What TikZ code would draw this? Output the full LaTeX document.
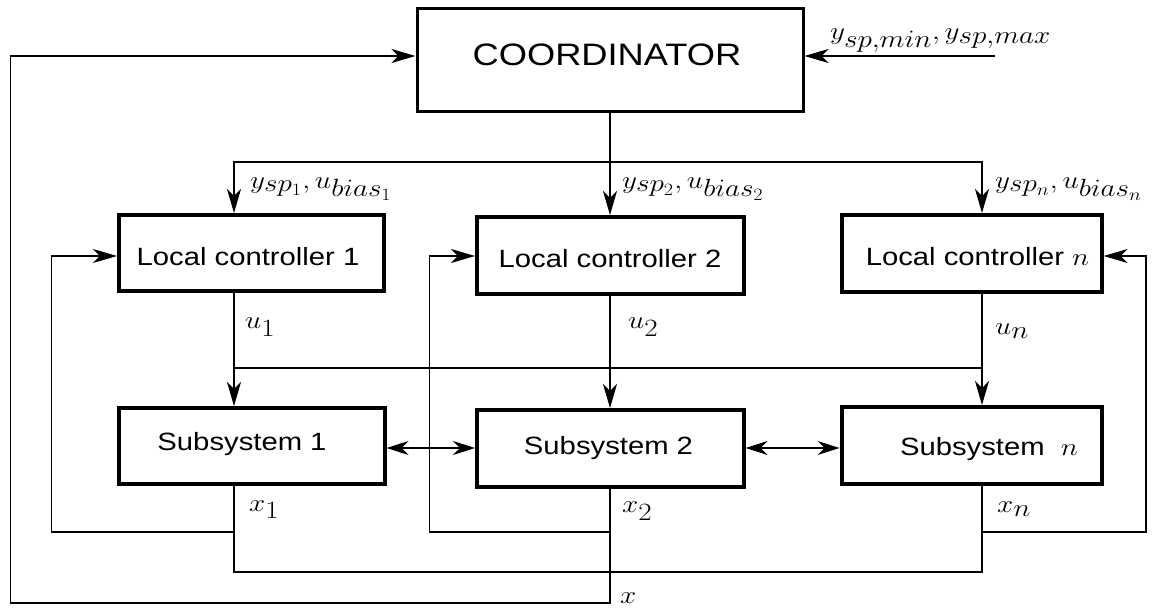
\documentclass[tikz,border=0pt]{standalone}
\usepackage{fontspec}
\setmainfont{Liberation Sans}
\usepackage{graphicx}
\usetikzlibrary{arrows.meta,calc}
\newcommand\sx[1]{\scalebox{1.17}[1]{#1}}
\begin{document}
\begin{tikzpicture}[x=1pt,y=-1pt,
  box/.style={draw,line width=4pt,inner sep=0},
  ln/.style={line width=1.2pt},
  arr/.style={ln,-{Stealth[length=24pt,width=14pt,inset=7pt]}},
  darr/.style={ln,{Stealth[length=22pt,width=14pt,inset=7pt]}-{Stealth[length=22pt,width=14pt,inset=7pt]}},
  txt/.style={font=\fontsize{25}{30}\selectfont,inner sep=0,anchor=base},
  mlab/.style={font=\fontsize{35}{40}\selectfont,inner sep=0,anchor=west}]
\useasboundingbox (0,0) rectangle (1154,610);
% boxes
\node[box,line width=3pt,minimum width=386pt,minimum height=103pt] (coord) at (610,60) {};
\node[box,minimum width=265.5pt,minimum height=76pt] (lc1) at (251.7,253) {};
\node[box,minimum width=266.6pt,minimum height=77pt] (lc2) at (610.3,255.5) {};
\node[box,minimum width=259.6pt,minimum height=77pt] (lcn) at (971.8,253.5) {};
\node[box,minimum width=266pt,minimum height=76pt] (s1) at (251.6,446) {};
\node[box,minimum width=266.6pt,minimum height=77pt] (s2) at (610.3,448.5) {};
\node[box,minimum width=260.5pt,minimum height=77pt] (sn) at (971.8,445.5) {};
% box texts
\node[txt,font=\fontsize{31}{36}\selectfont] (coordt) at (607,66) {\sx{COORDINATOR}};
\node[txt] (lc1t) at (248,265) {\sx{Local controller 1}};
\node[txt] (lc2t) at (610,267) {\sx{Local controller 2}};
\node[txt] (lcnt) at (977.5,265) {\sx{Local controller {\fontsize{34}{38}\selectfont$n$}}};
\node[txt] (s1t) at (242,450) {\sx{Subsystem 1}};
\node[txt] (s2t) at (608.5,454) {\sx{Subsystem 2}};
\node[txt] (snt) at (989,455) {\sx{Subsystem\ \ {\fontsize{34}{38}\selectfont$n$}}};
% columns and rows
\coordinate (c1) at (234,0);
\coordinate (c2) at (610,0);
\coordinate (cn) at (982,0);
\coordinate (fx1) at (51.7,0);
\coordinate (fx2) at (429.4,0);
\coordinate (fxn) at (1146,0);
\coordinate (ox) at (10.3,0);
\coordinate (rcin) at (0,56);
\coordinate (rbr) at (0,162);
\coordinate (rfin) at (0,256);
\coordinate (rcross) at (0,368);
\coordinate (rbi) at (0,448);
\coordinate (rfb) at (0,532);
\coordinate (rxb) at (0,572);
\coordinate (rout) at (0,603);
\coordinate (ext) at (995,56);
% outer loop
\draw[arr] (c2 |- s2.south) |- (ox |- rout) |- (coord.west |- rcin);
% external input
\draw[arr] (ext) -- (coord.east |- ext);
% coordinator to local controllers
\draw[arr] (c2 |- coord.south) -- (c2 |- lc2.north);
\draw[arr] (c2 |- rbr) -| (c1 |- lc1.north);
\draw[arr] (c2 |- rbr) -| (cn |- lcn.north);
% control inputs
\draw[arr] (c1 |- lc1.south) -- (c1 |- s1.north);
\draw[arr] (c2 |- lc2.south) -- (c2 |- s2.north);
\draw[arr] (cn |- lcn.south) -- (cn |- sn.north);
\draw[ln] (c1 |- rcross) -- (cn |- rcross);
% interactions
\draw[darr] (s1.east |- rbi) -- (s2.west |- rbi);
\draw[darr] (s2.east |- rbi) -- (sn.west |- rbi);
% state lines
\draw[ln] (c1 |- s1.south) |- (cn |- rxb) -- (cn |- sn.south);
% feedback
\draw[arr] (c1 |- rfb) -| (fx1 |- rfin) -- (lc1.west |- rfin);
\draw[arr] (c2 |- rfb) -| (fx2 |- rfin) -- (lc2.west |- rfin);
\draw[arr] (cn |- rfb) -| (fxn |- rfin) -- (lcn.east |- rfin);
% labels
\node[mlab] (lmm) at (830,40.5) {\sx{$y_{sp,min}, y_{sp,max}$}};
\node[mlab] (lsp1) at (250,189) {\sx{$y_{sp_1}, u_{bias_1}$}};
\node[mlab] (lsp2) at (622,189) {\sx{$y_{sp_2}, u_{bias_2}$}};
\node[mlab] (lspn) at (995,189) {\sx{$y_{sp_n}, u_{bias_n}$}};
\node[mlab] (lu1) at (245,327) {\sx{$u_1$}};
\node[mlab] (lu2) at (628,327) {\sx{$u_2$}};
\node[mlab] (lun) at (995,331) {\sx{$u_n$}};
\node[mlab] (lx1) at (249,509.5) {\sx{$x_1$}};
\node[mlab] (lx2) at (622,511) {\sx{$x_2$}};
\node[mlab] (lxn) at (997,509.5) {\sx{$x_n$}};
\node[mlab] (lx) at (620,598.5) {\sx{$x$}};
\end{tikzpicture}
\end{document}
